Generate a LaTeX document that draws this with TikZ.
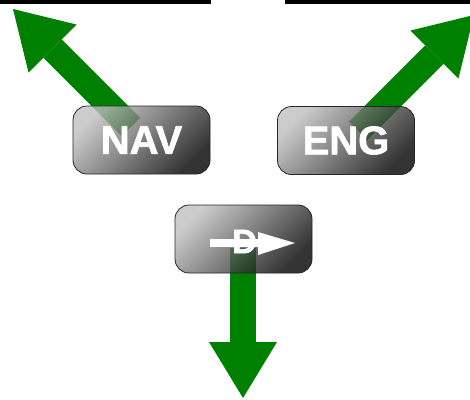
\documentclass[tikz,border=0pt]{standalone}
\usepackage{fontspec}
\setmainfont{Liberation Sans}
\newfontfamily\heavyfont[FakeBold=1.6]{Liberation Sans Bold}
\usetikzlibrary{arrows.meta}
\definecolor{arrowgreen}{HTML}{008000}
\tikzset{
  fatarrow/.style={draw=arrowgreen, line width=26bp, line cap=butt,
    -{Triangle[width=68bp,length=56bp,line width=0pt]}},
  glassbox/.style={rounded corners=14bp, minimum width=137bp, minimum height=68bp,
    inner sep=0pt, shading=axis, top color=gray!50, bottom color=black,
    shading angle=45, fill opacity=0.8, draw=black!85, line width=0.8bp,
    text=white, text opacity=1, font=\heavyfont\fontsize{40bp}{44bp}\selectfont},
  bar/.style={fill=black, draw=none},
  symb/.style={fill=white, draw=none}
}
\begin{document}
\begin{tikzpicture}[x=1bp, y=-1bp]
\useasboundingbox (0,0) rectangle (470,399);
% top bars
\fill[bar] (0,0) rectangle (211,3.5);
\fill[bar] (285,0) rectangle (470,3.5);
% arrow end points
\coordinate (navtail) at (131,127);
\coordinate (navtip) at (13,9);
\coordinate (engtail) at (358,131);
\coordinate (engtip) at (474,15);
\coordinate (dtail) at (243,248);
\coordinate (dtip) at (243,398);
\draw[fatarrow] (navtail) -- (navtip);
\draw[fatarrow] (engtail) -- (engtip);
\draw[fatarrow] (dtail) -- (dtip);
% boxes
\node[glassbox] (nav) at (141.5,140) {NAV};
\node[glassbox] (eng) at (346,140.5) {ENG};
\node[glassbox] (dbox) at (243.5,239) {};
% symbol in D box
\fill[symb] (210,238.5) rectangle (260,246.5);
\fill[symb] (258,232) -- (295,243) -- (258,255) -- cycle;
\node[text=white, inner sep=0pt, font=\heavyfont\fontsize{34bp}{38bp}\selectfont] (dlabel) at (244.5,241.5) {D};
\end{tikzpicture}
\end{document}
